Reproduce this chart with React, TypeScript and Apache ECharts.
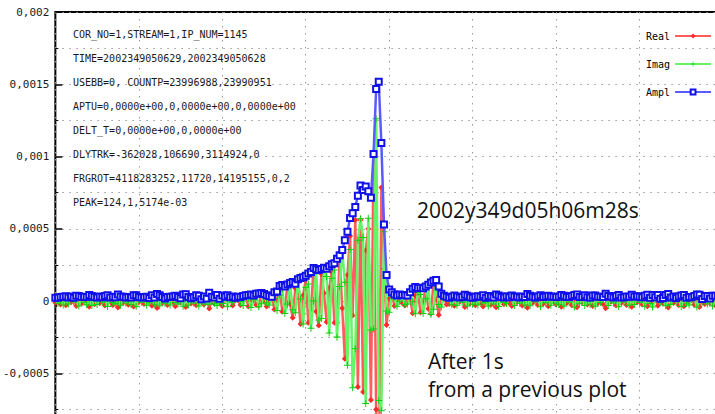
import React, { useEffect, useRef } from "react";
import * as echarts from "echarts";

// Values are in units of 1e-6 (sample index 0..255)
const realValues: number[] = [
  -12, 18, -25, 8, -30, 15, -8, 22, -35, 5,
  -18, 28, -10, -40, 12, -22, 6, -15, 25, -32,
  10, -5, -28, 18, -45, 8, -12, 20, -26, 3,
  -38, 14, -9, 24, -20, -4, 16, -33, 9, -48,
  21, -14, 7, -27, 12, -6, -36, 19, -11, 26,
  -42, 4, -17, 23, -29, 11, -3, -24, 15, -52,
  8, -19, 27, -13, -34, 17, -7, 22, -31, 6,
  6, -28, 16, 28, -38, -5, 37, -27, -33, 52,
  1, -38, 21, 17, -58, 5, 96, -74, -48, 113,
  -20, -116, 88, 61, -159, 40, 147, -150, -65, 228,
  -72, -169, 186, 56, -145, 90, 200, -150, -150, 300,
  -50, -400, 180, 450, -100, 560, -595, 560, -630, 350,
  500, -685, 999, -750, -1352, 786, 224, -166, 18, 51,
  -35, -13, 45, -13, -32, 32, 16, -85, 38, 67,
  -80, -15, 99, -53, -87, 128, 13, -97, 27, 22,
  -25,
  -20, 14, -33, 9, -6, 25, -41, 12, -17, 7,
  -29, 18, -10, -38, 22, -5, -26, 15, -44, 6,
  11, -23, 28, -14, -35, 9, -8, 20, -31, 4,
  -47, 16, -12, 24, -27, 8, -19, 30, -36, 13,
  -4, -22, 17, -39, 10, -15, 26, -30, 5, -43,
  19, -9, 23, -25, 12, -34, 7, -16, 27, -21,
  -50, 14, -6, 21, -32, 9, -13, 25, -28, 3,
  -40, 18, -11, 29, -24, 6, -37, 15, -8, 22,
  -33, 11, -18, 26, -45, 8, -14, 20, -29, 5,
  -36, 17, -3, 24, -26, 12, -41, 9, -20, 28,
  -15, 6, -31, 19, -10,
];

const imagValues: number[] = [
  20, -15, 10, -28, 14, -20, 30, -6, 12, -35,
  22, -9, -26, 8, -32, 16, -24, 28, -7, 10,
  -38, 25, -11, -19, 6, -30, 27, -14, 9, -25,
  13, -36, 26, -8, 17, -29, -12, 20, -22, 11,
  -33, 24, -16, 5, -27, 31, -10, -21, 15, -37,
  18, -28, 9, -13, 26, -34, 12, -20, 7, -23,
  29, -15, -31, 10, -18, 24, -39, 14, -9, 21,
  29, -4, -31, 29, 18, -45, 9, 42, -40, -19,
  48, -12, -28, 25, 16, -65, 41, 82, -87, -20,
  123, -61, -82, 137, 14, -160, 95, 117, -189, 0,
  208, -132, -121, 223, 170, -222, 158, 215, -250, 100,
  349, 130, -445, 356, -600, -330, 420, 570, 440, -710,
  572, -200, -194, 1261, -689, -760, 480, -70, -78, 32,
  28, -36, -1, 40, -24, -21, 58, -6, -89, 60,
  45, -87, 16, 99, -94, -57, 144, -24, -42, 28,
  17,
  12, -26, 18, -30, 24, -9, 15, -35, 20, -22,
  8, -28, 27, -13, -6, -34, 16, -20, 11, -38,
  25, -10, -17, 22, 14, -31, 29, -15, 9, -27,
  13, -33, 26, -5, 18, -39, 21, -12, 7, -29,
  30, -16, -24, 11, -35, 23, -8, 17, -42, 14,
  -19, 27, -31, 6, -22, 16, -37, 25, -11, 19,
  9, -32, 28, -14, 12, -40, 20, -7, 15, -30,
  17, -25, 31, -9, 10, -36, 22, -18, -41, 13,
  26, -12, 8, -33, 19, -24, 29, -6, 14, -38,
  21, -15, -28, 11, 24, -43, 16, -9, 27, -20,
  10, -35, 18, -26, 23,
];

const amplValues: number[] = [
  23, 23, 27, 29, 33, 25, 31, 23, 37, 35,
  28, 29, 28, 41, 34, 27, 25, 32, 26, 34,
  39, 25, 30, 26, 45, 31, 30, 24, 28, 25,
  40, 39, 28, 25, 26, 29, 20, 39, 24, 49,
  39, 28, 17, 27, 30, 32, 37, 28, 19, 45,
  46, 28, 19, 26, 39, 36, 12, 31, 17, 57,
  30, 24, 41, 16, 38, 29, 40, 26, 32, 22,
  30, 28, 35, 40, 42, 45, 38, 50, 52, 55,
  48, 40, 35, 30, 60, 65, 104, 110, 100, 115,
  125, 131, 120, 150, 160, 165, 175, 190, 200, 228,
  220, 215, 222, 230, 223, 240, 255, 262, 292, 316,
  353, 421, 480, 574, 608, 650, 728, 799, 768, 792,
  760, 714, 1017, 1467, 1517, 1093, 530, 180, 80, 60,
  45, 38, 45, 42, 40, 38, 60, 85, 97, 90,
  92, 88, 100, 112, 128, 140, 145, 100, 50, 36,
  30,
  23, 30, 38, 31, 25, 27, 44, 37, 26, 23,
  30, 33, 29, 40, 23, 34, 31, 25, 45, 38,
  27, 25, 33, 26, 38, 32, 30, 25, 32, 27,
  49, 37, 29, 25, 32, 40, 28, 32, 37, 32,
  30, 27, 29, 41, 36, 27, 27, 34, 42, 45,
  27, 28, 39, 26, 25, 38, 38, 30, 29, 28,
  51, 35, 29, 25, 34, 41, 24, 26, 32, 30,
  43, 31, 33, 30, 26, 36, 43, 23, 42, 26,
  42, 16, 20, 42, 49, 25, 32, 21, 32, 38,
  42, 23, 28, 26, 35, 45, 44, 13, 34, 34,
  18, 36, 36, 32, 25,
];

const seriesNames = ["Real", "Imag", "Ampl"];

const yTickValues = [-500, 0, 500, 1000, 1500, 2000];
const yTickLabels = ["-0,0005", "0", "0,0005", "0,001", "0,0015", "0,002"];

const infoLines = [
  "COR_NO=1,STREAM=1,IP_NUM=1145",
  "TIME=2002349050629,2002349050628",
  "USEBB=0, COUNTP=23996988,23990951",
  "APTU=0,0000e+00,0,0000e+00,0,0000e+00",
  "DELT_T=0,0000e+00,0,0000e+00",
  "DLYTRK=-362028,106690,3114924,0",
  "FRGROT=4118283252,11720,14195155,0,2",
  "PEAK=124,1,5174e-03",
];

const stampText = "2002y349d05h06m28s";
const noteLines = ["After 1s", "from a previous plot"];

const MONO = "DejaVu Sans Mono, monospace";
const SANS = "Open Sans, Noto Sans, sans-serif";

const plusPath =
  "path://M3,0 L4,0 L4,3 L7,3 L7,4 L4,4 L4,7 L3,7 L3,4 L0,4 L0,3 L3,3 Z";

export default function App() {
  const ref = useRef<HTMLDivElement>(null);

  useEffect(() => {
    if (!ref.current) return;
    const chart = echarts.init(ref.current, undefined, { renderer: "svg" });

    const toPairs = (arr: number[]) => arr.map((v, i) => [i, v]);
    const dotted = { color: "#9a9a9a", width: 1, type: [1.5, 5.5] as any };

    const graphics: any[] = [];
    infoLines.forEach((t, k) => {
      graphics.push({
        type: "text",
        left: 73,
        top: 29 + k * 24.1,
        style: { text: t, font: `10px ${MONO}`, fill: "#1a1a1a" },
        z: 50,
      });
    });
    graphics.push({
      type: "text",
      left: 417,
      top: 199,
      style: { text: stampText, font: `21px ${SANS}`, fill: "#111" },
      z: 50,
    });
    noteLines.forEach((t, k) => {
      graphics.push({
        type: "text",
        left: 428,
        top: 350 + k * 28,
        style: { text: t, font: `21px ${SANS}`, fill: "#111" },
        z: 50,
      });
    });

    chart.setOption({
      animation: false,
      textStyle: { fontFamily: MONO },
      grid: {
        left: 55,
        top: 12,
        width: 668,
        height: 433.5,
        show: true,
        borderColor: "#000",
        borderWidth: 2,
        backgroundColor: "transparent",
      },
      legend: {
        data: seriesNames,
        orient: "vertical",
        left: 641,
        top: 26,
        align: "right",
        itemWidth: 36,
        itemHeight: 6,
        itemGap: 18,
        textStyle: { fontFamily: MONO, fontSize: 10, color: "#000" },
      },
      xAxis: {
        type: "value",
        position: "top",
        min: 0,
        max: 256,
        interval: 64,
        axisLine: { show: false },
        axisLabel: { show: false },
        axisTick: { show: true, inside: true, length: 6, lineStyle: { color: "#000", width: 1.5 } },
        minorTick: { show: true, splitNumber: 2, length: 3, lineStyle: { color: "#000" } },
        splitLine: { show: true, lineStyle: dotted },
        minorSplitLine: { show: true, lineStyle: dotted },
      },
      yAxis: {
        type: "value",
        min: -1000,
        max: 2000,
        interval: 500,
        axisLine: { show: false },
        axisTick: { show: true, inside: true, length: 7, lineStyle: { color: "#000", width: 1.5 } },
        minorTick: { show: true, splitNumber: 2, length: 3, lineStyle: { color: "#000" } },
        splitLine: { show: true, lineStyle: dotted },
        minorSplitLine: { show: true, lineStyle: dotted },
        axisLabel: {
          margin: 6,
          fontFamily: MONO,
          fontSize: 11,
          color: "#1a1a1a",
          formatter: (v: number) => {
            const k = yTickValues.indexOf(Math.round(v));
            return k >= 0 ? yTickLabels[k] : "";
          },
        },
      },
      series: [
        {
          type: "line",
          name: seriesNames[0],
          data: toPairs(realValues),
          symbol: "diamond",
          symbolSize: 6,
          showSymbol: true,
          showAllSymbol: true,
          lineStyle: { color: "#ff5c5c", width: 2.5 },
          itemStyle: { color: "#ff2a2a" },
          emphasis: { disabled: true },
          z: 2,
        },
        {
          type: "line",
          name: seriesNames[1],
          data: toPairs(imagValues),
          symbol: plusPath,
          symbolSize: 7,
          showSymbol: true,
          showAllSymbol: true,
          lineStyle: { color: "#66f566", width: 2.5 },
          itemStyle: { color: "#10d010" },
          emphasis: { disabled: true },
          z: 3,
        },
        {
          type: "line",
          name: seriesNames[2],
          data: toPairs(amplValues),
          symbol: "emptyRect",
          symbolSize: 6,
          showSymbol: true,
          showAllSymbol: true,
          lineStyle: { color: "#5a5aff", width: 2.5 },
          itemStyle: { color: "#1010e8", borderWidth: 1.5 },
          emphasis: { disabled: true },
          z: 4,
        },
      ],
      graphic: graphics,
    });

    return () => chart.dispose();
  }, []);

  return (
    <div
      style={{
        position: "fixed",
        left: 0,
        top: 0,
        width: 715,
        height: 414,
        overflow: "hidden",
        background: "#fff",
      }}
    >
      <div ref={ref} style={{ width: 760, height: 480 }} />
    </div>
  );
}
